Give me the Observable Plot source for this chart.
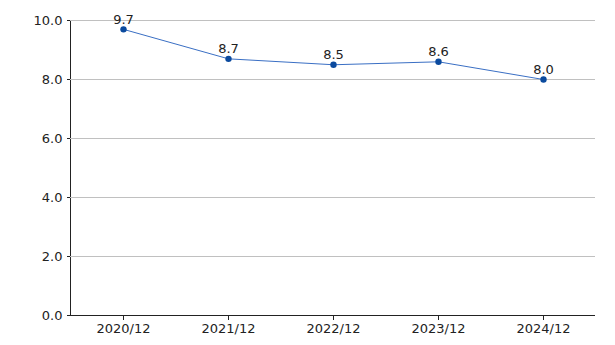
<!DOCTYPE html>
<html><head><meta charset="utf-8">
<script src="https://cdn.jsdelivr.net/npm/d3@7"></script>
<script src="https://cdn.jsdelivr.net/npm/@observablehq/plot@0.6"></script>
<style>body{margin:0;background:#fff;} svg{display:block;}</style>
</head><body><div id="chart"></div>
<script>
const categories = ["2020/12","2021/12","2022/12","2023/12","2024/12"];
const values = [9.7, 8.7, 8.5, 8.6, 8.0];
const yTicks = [0, 2, 4, 6, 8, 10];
const data = categories.map((c, i) => ({c, v: values[i]}));
const font = "'DejaVu Sans', Verdana, sans-serif";
const chart = Plot.plot({
  width: 615, height: 345,
  marginLeft: 70, marginRight: 20, marginTop: 20, marginBottom: 30,
  style: {fontFamily: font, fontSize: "13px", color: "#222", background: "#fff"},
  x: {type: "point", domain: categories, padding: 0.5, label: null, tickSize: 5, tickPadding: 3},
  y: {domain: [0, 10], label: null, ticks: yTicks, tickFormat: d => d.toFixed(1), tickSize: 3, tickPadding: 5, line: true},
  marks: [
    Plot.gridY(yTicks, {stroke: "#c0c0c0", strokeOpacity: 1}),
    Plot.ruleY([0], {stroke: "#222"}),
    Plot.line(data, {x: "c", y: "v", stroke: "#3a6fc4", strokeWidth: 1}),
    Plot.dot(data, {x: "c", y: "v", r: 3.2, fill: "#0b4a9e", stroke: "none"}),
    Plot.text(data, {x: "c", y: "v", text: d => d.v.toFixed(1), dy: -10, fontSize: 13, fill: "#222"})
  ]
});
document.getElementById("chart").appendChild(chart);
</script>
</body></html>
